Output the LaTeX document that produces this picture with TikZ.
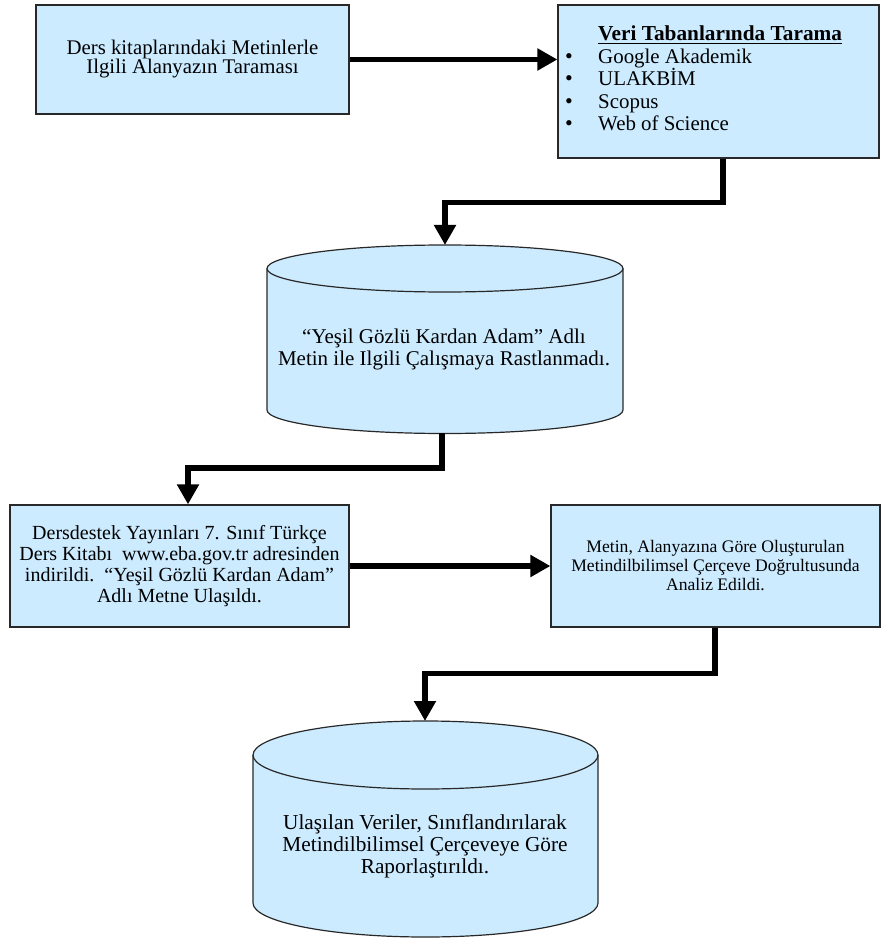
\documentclass[tikz,border=0pt]{standalone}
\usepackage{fontspec}
\setmainfont{Liberation Serif}
\usetikzlibrary{arrows.meta}
\definecolor{boxfill}{RGB}{204,235,255}
\definecolor{edge}{RGB}{40,40,40}
\begin{document}
\begin{tikzpicture}[x=1pt,y=1pt,
  box/.style={draw=edge, line width=1.2pt, fill=boxfill, rectangle, inner sep=0pt, align=center},
  maintext/.style={font=\fontsize{20.8}{19}\selectfont},
  smalltext/.style={font=\fontsize{17.6}{19}\selectfont},
  flow/.style={line width=5.5pt, black, -{Triangle[length=20pt,width=21pt]}},
  cyl/.style={draw=edge, line width=1.2pt, fill=boxfill},
  txt/.style={inner sep=0pt, align=center},
  linetxt/.style={inner sep=0pt, anchor=base west, font=\fontsize{20.9}{20}\selectfont},
  dot/.style={inner sep=0pt, anchor=base, font=\fontsize{22}{20}\selectfont}]
\useasboundingbox (0,0) rectangle (881,-941);

% Box 1
\node[box, maintext, minimum width=313pt, minimum height=109pt] (b1) at (192.5,-59.5)
  {Ders kitaplarındaki Metinlerle\\Ilgili Alanyazın Taraması};

% Box 2
\node[box, minimum width=321pt, minimum height=153pt] (b2) at (718.5,-81.5) {};
\node[linetxt, font=\fontsize{21.3}{20}\selectfont] (b2h) at (598,-41) {\underline{\textbf{Veri Tabanlarında Tarama}}};
\node[dot] (b2d1) at (569,-63.3) {\textbullet};
\node[linetxt] (b2i1) at (598,-63.3) {Google Akademik};
\node[dot] (b2d2) at (569,-86) {\textbullet};
\node[linetxt] (b2i2) at (598,-86) {ULAKBİM};
\node[dot] (b2d3) at (569,-109) {\textbullet};
\node[linetxt] (b2i3) at (598,-109) {Scopus};
\node[dot] (b2d4) at (569,-130.7) {\textbullet};
\node[linetxt] (b2i4) at (598,-130.7) {Web of Science};

% Cylinder 1
\path[cyl] (267,-268.5) -- (267,-410)
  arc[start angle=180, end angle=360, x radius=178pt, y radius=23.5pt]
  -- (623,-268.5)
  arc[start angle=0, end angle=180, x radius=178pt, y radius=23.5pt] -- cycle;
\draw[draw=edge, line width=1.2pt] (267,-268.5)
  arc[start angle=180, end angle=360, x radius=178pt, y radius=23.5pt];
\node[txt, font=\fontsize{21}{22}\selectfont] (c1) at (444,-349)
  {``Yeşil Gözlü Kardan Adam'' Adlı\\Metin ile Ilgili Çalışmaya Rastlanmadı.};
\coordinate (c1top) at (445,-245);
\coordinate (c1bot) at (442,-433);

% Box 3
\node[box, font=\fontsize{20}{21}\selectfont, minimum width=339pt, minimum height=122pt] (b3) at (179.5,-566)
  {Dersdestek Yayınları 7. Sınıf Türkçe\\Ders Kitabı\ \ www.eba.gov.tr adresinden\\indirildi.\ \ ``Yeşil Gözlü Kardan Adam''\\Adlı Metne Ulaşıldı.};

% Box 4
\node[box, smalltext, minimum width=329pt, minimum height=122pt] (b4) at (715.5,-566)
  {Metin, Alanyazına Göre Oluşturulan\\Metindilbilimsel Çerçeve Doğrultusunda\\Analiz Edildi.};

% Cylinder 2
\path[cyl] (253,-755) -- (253,-903)
  arc[start angle=180, end angle=360, x radius=172.5pt, y radius=34pt]
  -- (598,-755)
  arc[start angle=0, end angle=180, x radius=172.5pt, y radius=34pt] -- cycle;
\draw[draw=edge, line width=1.2pt] (253,-755)
  arc[start angle=180, end angle=360, x radius=172.5pt, y radius=34pt];
\node[txt, font=\fontsize{21.3}{22}\selectfont] (c2) at (425,-846)
  {Ulaşılan Veriler, Sınıflandırılarak\\Metindilbilimsel Çerçeveye Göre\\Raporlaştırıldı.};
\coordinate (c2top) at (425,-721);

% Connectors
\draw[flow] (b1.east) -- (b1.east -| b2.west);
\draw[flow] ([xshift=4.5pt]b2.south) -- ++(0,-44) -| (c1top);
\draw[flow] (c1bot) -- ++(0,-35) -| ([xshift=8.5pt]b3.north);
\draw[flow] (b3.east) -- (b4.west);
\draw[flow] ([xshift=-0.5pt]b4.south) -- ++(0,-46) -| (c2top);
\end{tikzpicture}
\end{document}
